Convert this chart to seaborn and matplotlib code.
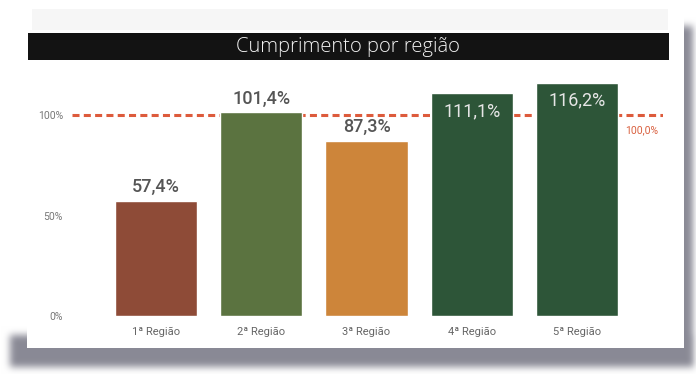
import numpy as np
import matplotlib
matplotlib.use("Agg")
import matplotlib.pyplot as plt
from matplotlib.patches import Rectangle
import seaborn as sns

# ---- data ----
regioes = ["1ª Região", "2ª Região", "3ª Região", "4ª Região", "5ª Região"]
cumprimento = [57.4, 101.4, 87.3, 111.1, 116.2]
cores = ["#8E4B37", "#5B7340", "#CD853A", "#2D5538", "#2D5538"]
meta = 100.0
y_ticks = [0, 50, 100]
y_tick_labels = ["0%", "50%", "100%"]
titulo = "Cumprimento por região"


def pct(v):
    return f"{v:.1f}%".replace(".", ",")


sns.set_theme(style="white")
plt.rcParams["font.family"] = ["Roboto", "DejaVu Sans"]

W, H = 696, 374
fig = plt.figure(figsize=(W / 100, H / 100), dpi=100)
fig.patch.set_facecolor("white")

# ---- background card with a soft drop shadow (bottom and right only) ----
bg = fig.add_axes([0, 0, 1, 1])
bg.set_xlim(0, W)
bg.set_ylim(H, 0)
bg.axis("off")

yy, xx = np.mgrid[0:H, 0:W]
card = ((xx >= 27) & (xx <= 683) & (yy >= 8) & (yy <= 347)).astype(float)
bottom = (xx >= 10) & (xx <= 693) & (yy >= 335) & (yy <= 366)
right = (xx >= 665) & (xx <= 692) & (yy >= 26) & (yy <= 366)
shadow = (bottom | right).astype(float)


def box_blur(a, r, passes=3):
    k = np.ones(2 * r + 1) / (2 * r + 1)
    for _ in range(passes):
        a = np.apply_along_axis(lambda m: np.convolve(m, k, mode="same"), 0, a)
        a = np.apply_along_axis(lambda m: np.convolve(m, k, mode="same"), 1, a)
    return a


shadow = box_blur(shadow, 3)
dark = 0.46 * shadow * (1.0 - card)
rgb = np.dstack([1.0 - dark, 1.0 - dark, 1.0 - dark * 0.9]).clip(0, 1)
bg.imshow(rgb, extent=(0, W, H, 0), interpolation="bilinear", zorder=0)

# faint header strip and black title bar
bg.add_patch(Rectangle((32, 9), 636, 21, color="#F6F6F6", lw=0, zorder=1))
bg.add_patch(Rectangle((28, 33), 641, 27, color="#131313", lw=0, zorder=2))
bg.text(348, 47, titulo, color="#F2F2F2", fontsize=14.5, fontweight="light",
        family=["Open Sans", "DejaVu Sans"], ha="center", va="center", zorder=3)

# ---- bar chart ----
ax = fig.add_axes([72 / W, (H - 316) / H, 591 / W, 241 / H])
ax.set_facecolor("none")

sns.barplot(x=regioes, y=cumprimento, hue=regioes, palette=cores,
            legend=False, ax=ax, width=0.78, saturation=1, zorder=2)

ax.set_xlim(-0.798, 4.817)
ax.set_ylim(0, 120)

# target line
ax.axhline(meta, color="#DD5B3C", lw=2.2, ls=(0, (2.3, 1.4)), zorder=1)
ax.annotate(pct(meta), xy=(1, meta), xycoords=("axes fraction", "data"),
            xytext=(-3.5, -11), textcoords="offset points",
            ha="right", va="center", fontsize=7.5, color="#D9603F")

# value labels
for i, v in enumerate(cumprimento):
    if v > 105:
        ax.annotate(pct(v), xy=(i, v), xytext=(0, -13), textcoords="offset points",
                    ha="center", va="center", fontsize=13, color="#E6E6E6",
                    zorder=4)
    else:
        ax.annotate(pct(v), xy=(i, v), xytext=(0, 10), textcoords="offset points",
                    ha="center", va="center", fontsize=13, color="#555555",
                    fontweight="medium", zorder=4)

ax.set_yticks(y_ticks, y_tick_labels)
ax.tick_params(axis="y", length=0, pad=6.5, labelsize=7.5, labelcolor="#777777")
ax.tick_params(axis="x", length=0, pad=8, labelsize=8, labelcolor="#666666")
ax.set_xlabel("")
ax.set_ylabel("")
for s in ax.spines.values():
    s.set_visible(False)
ax.grid(False)

fig.savefig("out.png", dpi=100, facecolor="white")
